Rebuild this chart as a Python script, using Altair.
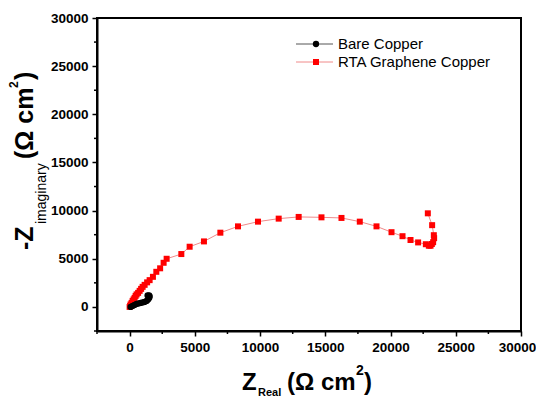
import altair as alt
import pandas as pd

# ---- data ----
rta_x = [0, 38, 77, 153, 230, 307, 383, 460, 537, 652, 767, 882, 997, 1150, 1342, 1534,
         1787, 2047, 2339, 2607, 2837, 3964, 4601, 5698, 6956, 8306, 9839, 11427, 12958,
         14706, 16240, 17643, 18924, 20074, 20918, 21531, 22114, 22705, 22935, 23065,
         23165, 23265, 23341, 23318, 23188, 22858]
rta_y = [0, 104, 260, 417, 625, 781, 938, 1146, 1302, 1458, 1667, 1875, 2083, 2292, 2552,
         2781, 3125, 3646, 4010, 4583, 5000, 5490, 6250, 6802, 7708, 8365, 8854, 9167,
         9344, 9302, 9240, 8854, 8365, 7760, 7344, 6948, 6698, 6510, 6354, 6354, 6531,
         6719, 7135, 7448, 8490, 9719]

bare_x = [77, 230, 383, 537, 690, 844, 997, 1150, 1304, 1419, 1496, 1534, 1496, 1380]
bare_y = [0, 104, 208, 313, 365, 417, 469, 521, 625, 781, 938, 1094, 1198, 1198]

x_major = [0, 5000, 10000, 15000, 20000, 25000, 30000]
x_minor = [-2500, 2500, 7500, 12500, 17500, 22500, 27500]
y_major = [0, 5000, 10000, 15000, 20000, 25000, 30000]
y_minor = [-2500, 2500, 7500, 12500, 17500, 22500, 27500]

series_names = ["Bare Copper", "RTA Graphene Copper"]

W, H = 424, 313
FONT = "Liberation Sans"

df_rta = pd.DataFrame({"x": rta_x, "y": rta_y, "i": range(len(rta_x))})
df_bare = pd.DataFrame({"x": bare_x, "y": bare_y, "i": range(len(bare_x))})

xs = alt.Scale(domain=[-2500, 30000], nice=False, zero=False)
ys = alt.Scale(domain=[-2500, 30000], nice=False, zero=False)
xaxis = alt.Axis(values=x_major, title=None, tickSize=5, labelPadding=4, labelFlush=False,
                 format="d",
                 labelOffset={"condition": {"test": "datum.value == 30000", "value": -4}, "value": 0})
yaxis = alt.Axis(values=y_major, title=None, tickSize=5, labelPadding=4, labelFlush=False, format="d")

X = lambda: alt.X("x:Q", scale=xs, axis=xaxis)
Y = lambda: alt.Y("y:Q", scale=ys, axis=yaxis)

red_line = alt.Chart(df_rta).mark_line(color="#f08a8a", strokeWidth=1).encode(
    x=X(), y=Y(), order="i:Q")
red_pts = alt.Chart(df_rta).mark_point(shape="square", filled=True, color="#ff0000",
                                      size=36, opacity=1).encode(x=X(), y=Y())
bare_line = alt.Chart(df_bare).mark_line(color="#555555", strokeWidth=1).encode(
    x=X(), y=Y(), order="i:Q")
bare_pts = alt.Chart(df_bare).mark_point(shape="circle", filled=True, color="#000000",
                                        size=40, opacity=1).encode(x=X(), y=Y())

# minor ticks
xminor = alt.Chart(pd.DataFrame({"x": x_minor})).mark_rule(color="black", strokeWidth=1.5).encode(
    x=X(), y=alt.value(H), y2=alt.value(H + 3))
yminor = alt.Chart(pd.DataFrame({"y": y_minor})).mark_rule(color="black", strokeWidth=1.5).encode(
    y=Y(), x=alt.value(0), x2=alt.value(-3))

# legend
def leg_entry(name, ypos, line_color, mcolor, shape, size):
    d = pd.DataFrame({"t": [name]})
    ln = alt.Chart(d).mark_rule(color=line_color, strokeWidth=1).encode(
        x=alt.value(199), x2=alt.value(236), y=alt.value(ypos))
    mk = alt.Chart(d).mark_point(shape=shape, filled=True, color=mcolor, size=size, opacity=1).encode(
        x=alt.value(219), y=alt.value(ypos))
    tx = alt.Chart(d).mark_text(align="left", baseline="middle", font=FONT, fontSize=15,
                                color="black").encode(text="t:N", x=alt.value(241), y=alt.value(ypos))
    return [ln, mk, tx]

legend = (leg_entry(series_names[0], 26, "#555555", "#000000", "circle", 40)
          + leg_entry(series_names[1], 44, "#f08a8a", "#ff0000", "square", 36))

# axis titles built from pieces (subscript / superscript)
def txt(s, x, y, size, weight="bold", angle=0):
    return alt.Chart(pd.DataFrame({"t": [s]})).mark_text(
        align="left", baseline="alphabetic", font=FONT, fontSize=size, fontWeight=weight,
        color="black", angle=angle).encode(text="t:N", x=alt.value(x), y=alt.value(y))

xtitle = [
    txt("Z", 145, 372, 24),
    txt("Real", 161, 378, 11),
    txt("(Ω cm", 190, 372, 24),
    txt("2", 259, 357, 14),
    txt(")", 267, 372, 24),
]
ytitle = [
    txt("-Z", -64, 232, 25, angle=270),
    txt("imaginary", -51, 206, 14, weight="normal", angle=270),
    txt("(Ω cm", -64, 141, 25, angle=270),
    txt("2", -79, 70, 12, angle=270),
    txt(")", -64, 62, 25, angle=270),
]

chart = alt.layer(
    red_line, bare_line, red_pts, bare_pts, xminor, yminor, *legend, *xtitle, *ytitle
).properties(
    width=W, height=H,
    padding={"left": 89, "top": 10, "right": 15, "bottom": 80},
    autosize=alt.AutoSizeParams(type="none"),
).configure_view(
    stroke="black", strokeWidth=2
).configure_axis(
    grid=False, domainColor="black", domainWidth=2, tickColor="black", tickWidth=1.5,
    labelFont=FONT, labelFontSize=13.5, labelFontWeight="bold", labelColor="black",
    labelOverlap=False
)

chart.save("out.html", embed_options={"renderer": "svg", "actions": False})
